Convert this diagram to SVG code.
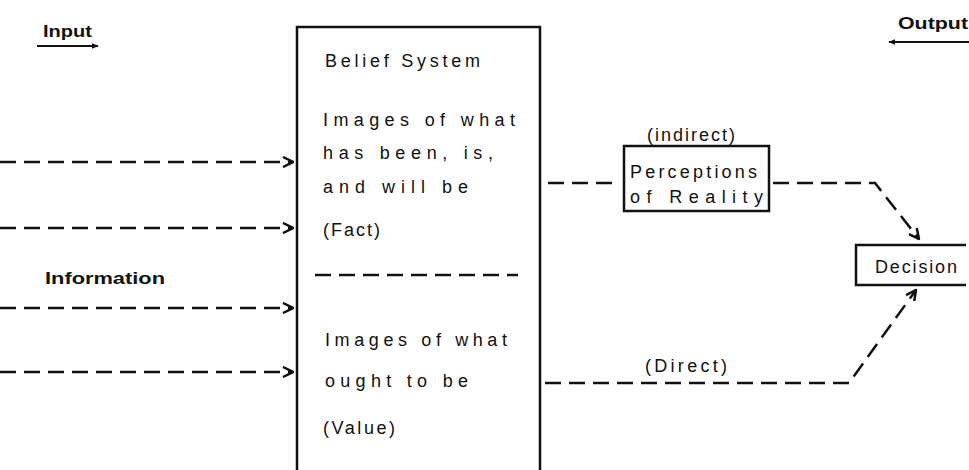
<svg xmlns="http://www.w3.org/2000/svg" width="969" height="470" viewBox="0 0 969 470">
<style>
text{font-family:"Liberation Sans",Arial,sans-serif;font-size:18px;fill:#111;}
.lbl{font-size:16px;font-weight:bold;}
.box{fill:none;stroke:#111;stroke-width:2.5;}
.dash{fill:none;stroke:#111;stroke-width:2.5;stroke-dasharray:16 8;}
.solid{fill:none;stroke:#111;stroke-width:2;}
</style>
<defs>
<marker id="chev" viewBox="0 0 12 12" refX="11" refY="6" markerWidth="12" markerHeight="12" markerUnits="userSpaceOnUse" orient="auto">
<path d="M1,1 L11,6 L1,11" fill="none" stroke="#111" stroke-width="2.5"/>
</marker>
<marker id="small" viewBox="0 0 10 10" refX="9" refY="5" markerWidth="7" markerHeight="7" markerUnits="userSpaceOnUse" orient="auto">
<path d="M0,1 L10,5 L0,9 Z" fill="#111"/>
</marker>
</defs>
<rect width="969" height="470" fill="#fff"/>

<g id="labels">
<text x="43" y="37" class="lbl" textLength="49" lengthAdjust="spacingAndGlyphs">Input</text>
<line x1="37" y1="46" x2="98" y2="46" class="solid" stroke-width="2.5" marker-end="url(#small)"/>
<text x="898" y="29" class="lbl" textLength="70" lengthAdjust="spacingAndGlyphs">Output</text>
<line x1="969" y1="42" x2="889" y2="42" class="solid" marker-end="url(#small)"/>
<text x="45" y="284" class="lbl" style="font-size:17px" textLength="120" lengthAdjust="spacingAndGlyphs">Information</text>
</g>

<g id="belief-system">
<path d="M297,470 V27 H540 V470" class="box"/>
<text x="325" y="67" textLength="155" lengthAdjust="spacing">Belief System</text>
<text x="323" y="126" textLength="192" lengthAdjust="spacing">Images of what</text>
<text x="323" y="159" textLength="170" lengthAdjust="spacing">has been, is,</text>
<text x="323" y="193" textLength="145" lengthAdjust="spacing">and will be</text>
<text x="323" y="236" textLength="57" lengthAdjust="spacing">(Fact)</text>
<line x1="315" y1="275" x2="518" y2="275" class="dash" stroke-dasharray="16 10"/>
<text x="325" y="346" textLength="182" lengthAdjust="spacing">Images of what</text>
<text x="325" y="387" textLength="143" lengthAdjust="spacing">ought to be</text>
<text x="323" y="434" textLength="72" lengthAdjust="spacing">(Value)</text>
</g>

<g id="perceptions">
<text x="647" y="141" textLength="88" lengthAdjust="spacing">(indirect)</text>
<rect x="624" y="146" width="145" height="65" class="box"/>
<text x="630" y="178" textLength="127" lengthAdjust="spacing">Perceptions</text>
<text x="630" y="203" textLength="133" lengthAdjust="spacing">of Reality</text>
</g>

<g id="decision">
<path d="M966,245 H856 V285 H966" class="box"/>
<text x="875" y="273" textLength="82" lengthAdjust="spacing">Decision</text>
</g>

<g id="connectors">
<line x1="0" y1="162" x2="293" y2="162" class="dash" marker-end="url(#chev)"/>
<line x1="0" y1="228" x2="293" y2="228" class="dash" marker-end="url(#chev)"/>
<line x1="0" y1="308" x2="293" y2="308" class="dash" marker-end="url(#chev)"/>
<line x1="0" y1="372" x2="293" y2="372" class="dash" marker-end="url(#chev)"/>
<line x1="548" y1="183" x2="612" y2="183" class="dash" stroke-dasharray="18 6"/>
<path d="M773,183 H875 L919,239" class="dash" stroke-dasharray="16 8" marker-end="url(#chev)"/>
<path d="M545,383 H849 L916,290" class="dash" marker-end="url(#chev)"/>
<text x="645" y="372" textLength="82" lengthAdjust="spacing">(Direct)</text>
</g>
</svg>
